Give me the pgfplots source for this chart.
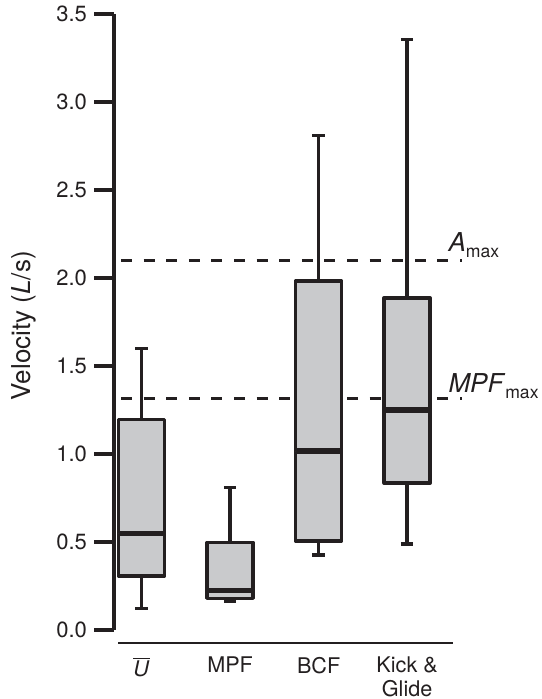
\documentclass[border=0pt]{standalone}
\usepackage{fontspec}
\setmainfont{TeX Gyre Heros}
\usepackage{pgfplots}
\pgfplotsset{compat=1.18}
\usepgfplotslibrary{statistics}
\definecolor{ink}{HTML}{231F20}
\definecolor{boxgray}{HTML}{C9CACC}
\begin{document}
\begin{tikzpicture}
\begin{axis}[
  scale only axis, width=174pt, height=308pt,
  xmin=0.689, xmax=4.62, ymin=0, ymax=3.5,
  clip=false,
  axis y line*=left, axis x line*=bottom,
  y axis line style={ink, line width=1.7pt, -},
  x axis line style={draw=none},
  xtick={1,2,3,4},
  xticklabels={{\ensuremath{\overline{\mbox{\textit{U}}}}}, MPF, BCF, {Kick \&\\Glide}},
  xticklabel style={align=center, font=\fontsize{10.8}{12}\selectfont, ink, anchor=north, yshift=0pt},
  major x tick style={draw=none},
  ytick={0,0.5,1,1.5,2,2.5,3,3.5},
  yticklabel style={/pgf/number format/fixed, /pgf/number format/fixed zerofill, /pgf/number format/precision=1, font=\fontsize{11}{13}\selectfont, ink},
  /pgf/number format/assume math mode=true,
  tick align=outside, major tick length=10pt,
  major y tick style={ink, line width=1.7pt},
  ylabel={Velocity (\textit{L}/s)},
  ylabel style={at={(axis description cs:-0.259,0.494)}, anchor=center, font=\fontsize{13}{15}\selectfont, ink},
  boxplot/draw direction=y,
  boxplot/box extend=0.52,
  boxplot/whisker extend=0.14,
  boxplot/every median/.style={line width=2.8pt},
]
\addplot[ink, line width=1.4pt, dash pattern=on 5.5pt off 5.8pt] coordinates {(0.768,2.1) (4.62,2.1)};
\addplot[ink, line width=1.4pt, dash pattern=on 5.5pt off 5.8pt] coordinates {(0.768,1.317) (4.62,1.317)};
\addplot[draw=ink, fill=boxgray, line width=1.7pt, line join=round, boxplot prepared={draw position=1, lower whisker=0.121, lower quartile=0.307, median=0.549, upper quartile=1.197, upper whisker=1.60}] coordinates {};
\addplot[draw=ink, fill=boxgray, line width=1.7pt, line join=round, boxplot prepared={draw position=2, lower whisker=0.161, lower quartile=0.18, median=0.224, upper quartile=0.498, upper whisker=0.81}] coordinates {};
\addplot[draw=ink, fill=boxgray, line width=1.7pt, line join=round, boxplot prepared={draw position=3, lower whisker=0.426, lower quartile=0.506, median=1.017, upper quartile=1.983, upper whisker=2.81}] coordinates {};
\addplot[draw=ink, fill=boxgray, line width=1.7pt, line join=round, boxplot prepared={draw position=4, lower whisker=0.489, lower quartile=0.835, median=1.25, upper quartile=1.887, upper whisker=3.356}] coordinates {};
\draw[ink, line width=1.4pt] (axis cs:0.734,-0.074) -- (axis cs:4.517,-0.074);
\node[anchor=base west, inner sep=0pt, ink] at (axis cs:4.463,2.148) {\fontsize{13}{15}\selectfont\textit{A}\raisebox{-2.8pt}{\fontsize{8.8}{10}\selectfont max}};
\node[anchor=base west, inner sep=0pt, ink] at (axis cs:4.463,1.347) {\fontsize{13}{15}\selectfont\textit{MPF}\raisebox{-2.8pt}{\fontsize{8.8}{10}\selectfont max}};
\coordinate (BBa) at (axis cs:-0.599,3.5795);
\coordinate (BBb) at (axis cs:5.514,-0.392);
\end{axis}
\pgfresetboundingbox
\path[use as bounding box] (BBa) rectangle (BBb);
\end{tikzpicture}
\end{document}
